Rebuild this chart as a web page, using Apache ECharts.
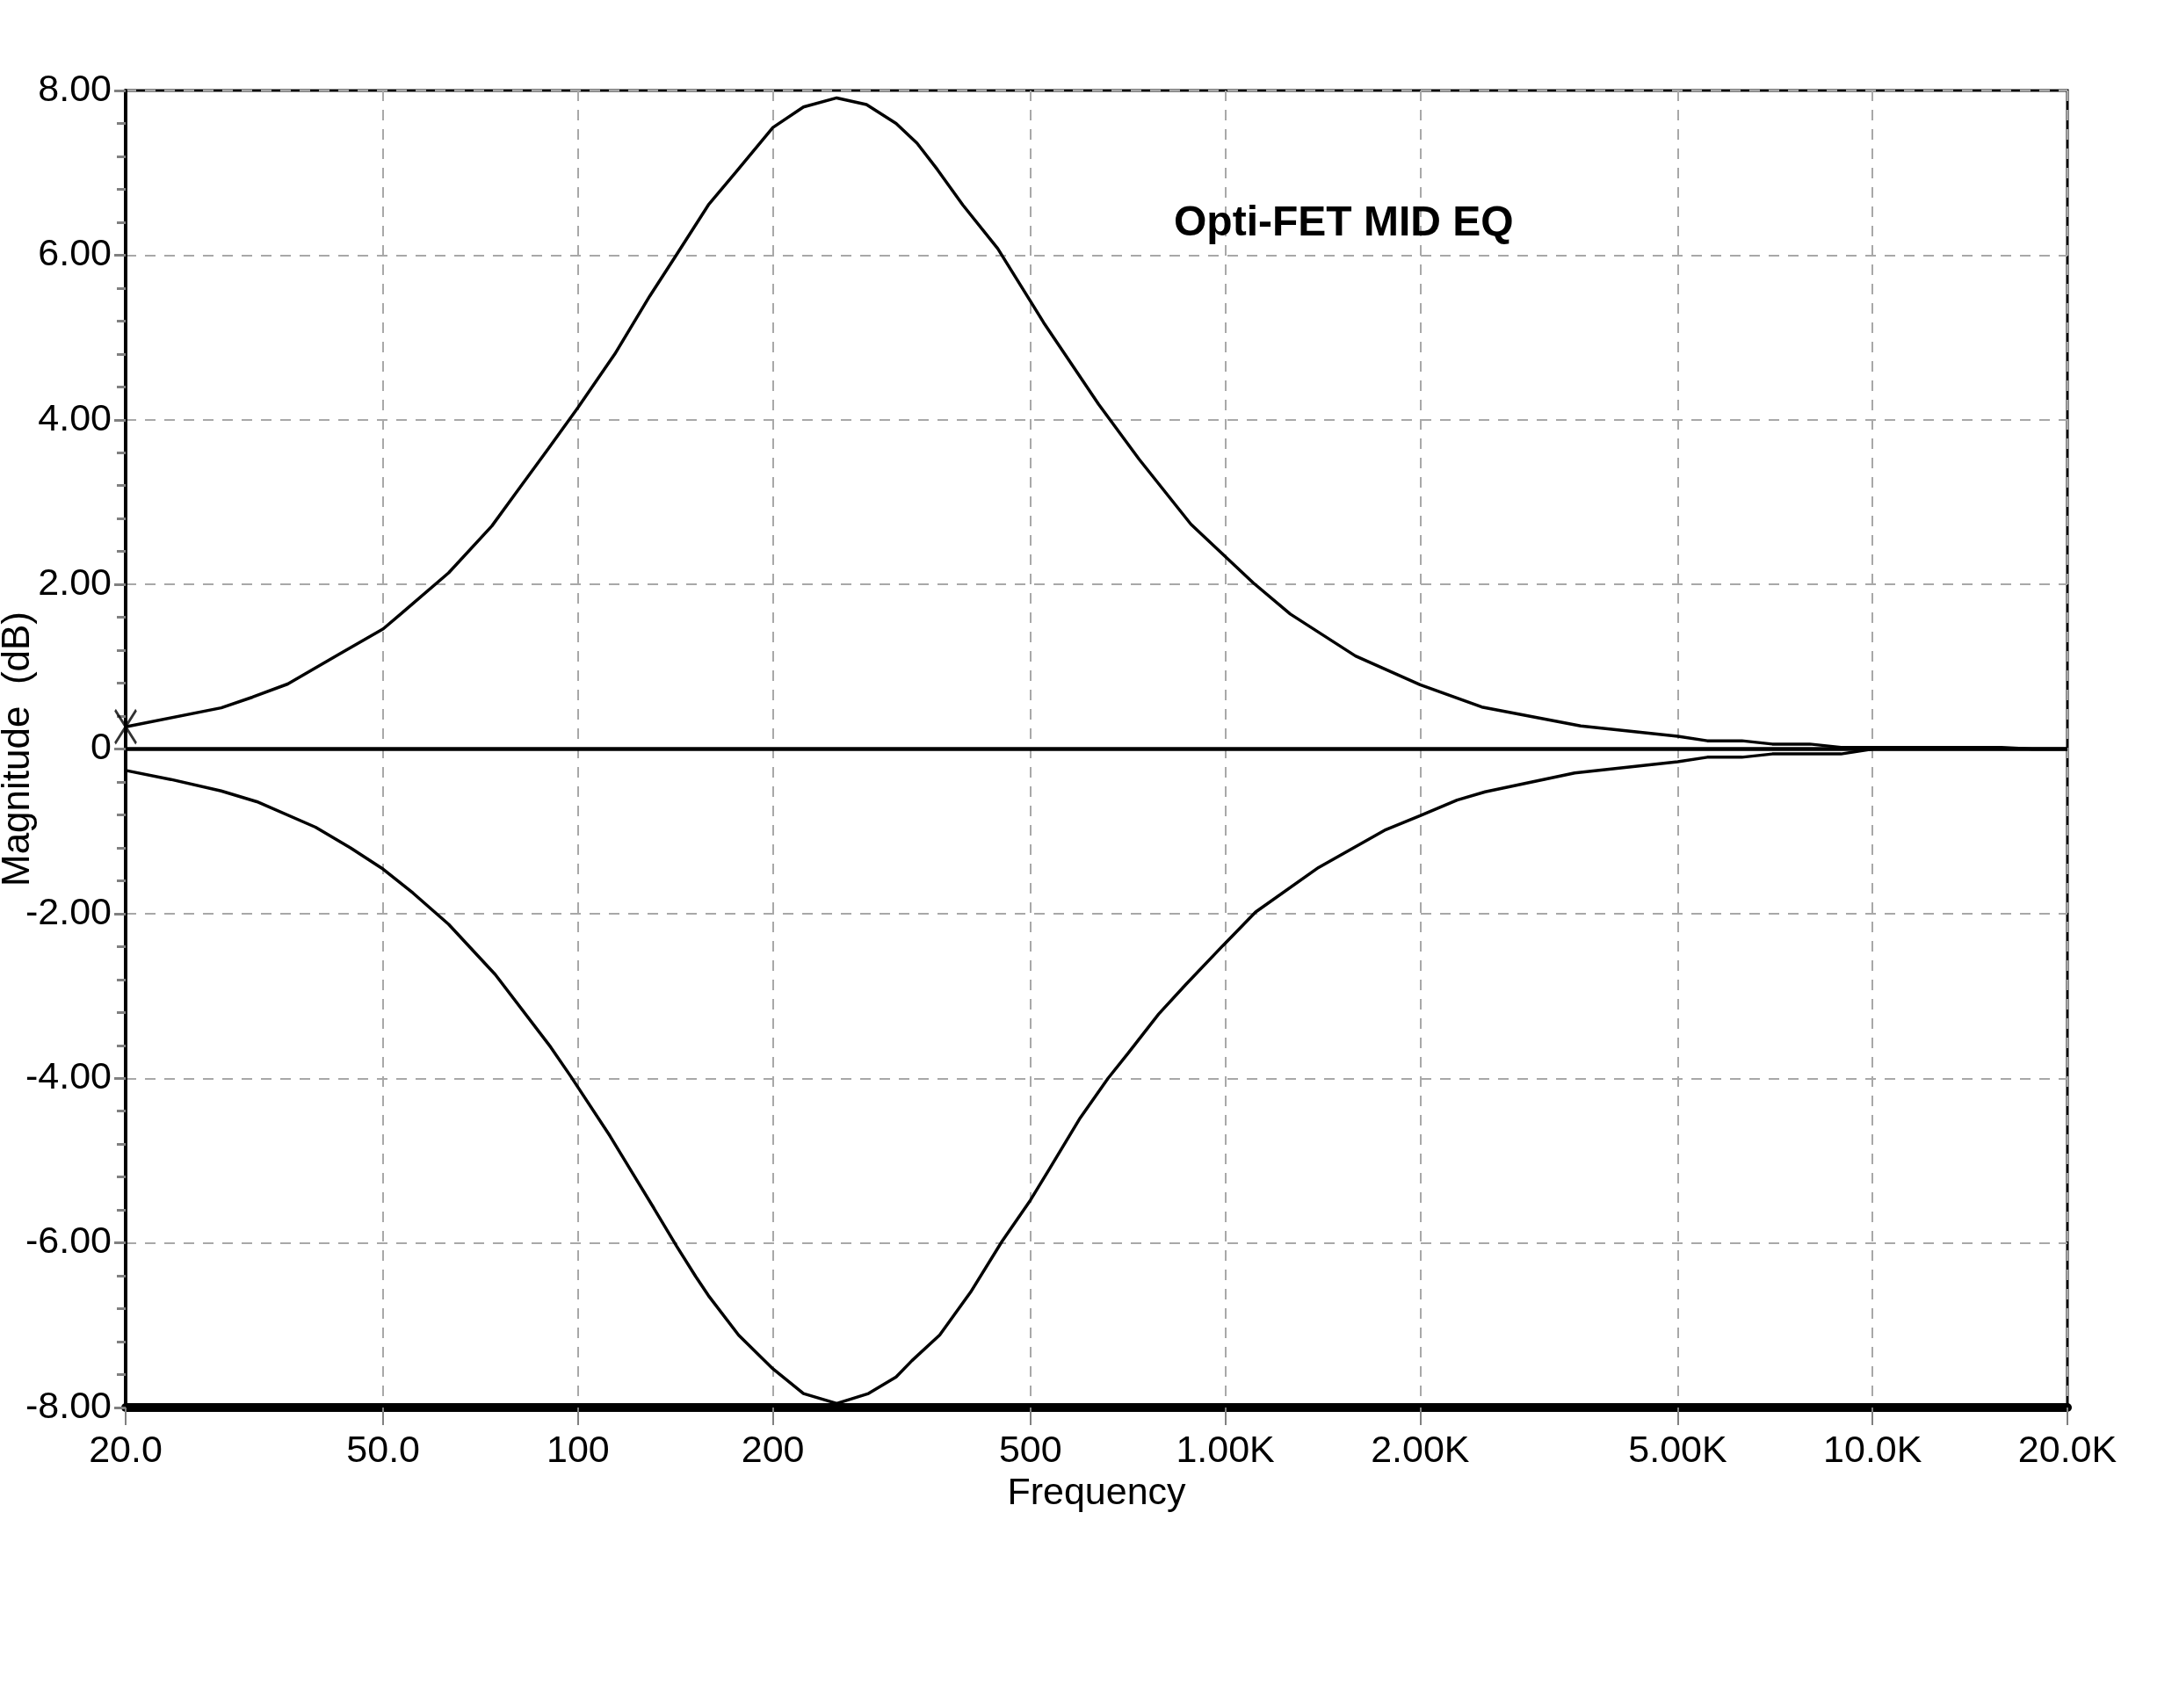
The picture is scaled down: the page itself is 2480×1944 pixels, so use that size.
<!DOCTYPE html>
<html>
<head>
<meta charset="utf-8">
<script src="https://cdn.jsdelivr.net/npm/echarts@6/dist/echarts.min.js"></script>
<style>
  html, body { margin: 0; padding: 0; background: #fff; }
  #chart { width: 2480px; height: 1944px; }
</style>
</head>
<body>
<div id="chart"></div>
<script>
// boost curve (upper)
var boostFreq = [20, 28.1, 31.4, 35.6, 42.7, 50, 53.4, 63.1, 73.6, 80, 90, 100, 114, 129, 141, 159, 175, 200, 223, 251, 279, 310, 334, 359, 393, 445, 500, 524, 637, 736, 885, 1104, 1260, 1589, 2000, 2490, 3541, 5000, 5554, 6283, 7000, 8000, 8940, 15820, 17650, 20000];
var boostDb = [0.27, 0.50, 0.63, 0.79, 1.15, 1.46, 1.65, 2.14, 2.71, 3.10, 3.65, 4.15, 4.80, 5.50, 5.97, 6.61, 7.00, 7.55, 7.80, 7.91, 7.83, 7.60, 7.36, 7.04, 6.61, 6.08, 5.44, 5.18, 4.19, 3.52, 2.73, 2.02, 1.64, 1.13, 0.78, 0.51, 0.28, 0.155, 0.10, 0.10, 0.06, 0.06, 0.02, 0.02, 0, 0];

// cut curve (lower)
var cutFreq = [20, 23.5, 28.1, 31.9, 39.3, 44.5, 50, 55.6, 63.1, 74.5, 90.7, 97.5, 112, 122, 131, 142, 152, 159, 177, 200, 223, 251, 281, 310, 328, 362, 404, 452, 500, 535, 597, 659, 707, 789, 869, 991, 1114, 1393, 1770, 2000, 2281, 2520, 3466, 5000, 5554, 6283, 7000, 8940, 10000, 20000];
var cutDb = [-0.26, -0.37, -0.51, -0.64, -0.95, -1.20, -1.46, -1.75, -2.13, -2.74, -3.62, -3.98, -4.70, -5.18, -5.58, -6.04, -6.41, -6.64, -7.12, -7.53, -7.83, -7.95, -7.83, -7.63, -7.43, -7.12, -6.60, -5.98, -5.48, -5.10, -4.48, -4.00, -3.70, -3.22, -2.86, -2.39, -1.98, -1.44, -0.98, -0.81, -0.62, -0.52, -0.29, -0.155, -0.10, -0.10, -0.06, -0.06, 0, 0];

// flat curve
var flatFreq = [20, 20000];
var flatDb = [0, 0];

// cursor marker
var cursorPoint = [20, 0.27];

// axis ticks
var xTickValues = [20, 50, 100, 200, 500, 1000, 2000, 5000, 10000, 20000];
var xTickLabels = ['20.0', '50.0', '100', '200', '500', '1.00K', '2.00K', '5.00K', '10.0K', '20.0K'];

function pairs(xs, ys) {
    return xs.map(function (x, i) { return [x, ys[i]]; });
}

function xLabel(v) {
    for (var i = 0; i < xTickValues.length; i++) {
        if (Math.abs(v - xTickValues[i]) / xTickValues[i] < 1e-6) return xTickLabels[i];
    }
    return '';
}

var chartDom = document.getElementById('chart');
var myChart = echarts.init(chartDom);

var FONT = 'Liberation Sans, Arial, sans-serif';
var curveStyle = { color: '#000', width: 3.5 };

var option = {
    backgroundColor: '#fff',
    animation: false,
    title: {
        text: 'Opti-FET MID EQ',
        left: 1331,
        top: 226,
        textStyle: { fontFamily: FONT, fontSize: 48, fontWeight: 'bold', color: '#000' }
    },
    grid: {
        left: 143,
        right: 127,
        top: 103,
        bottom: 342,
        outerBoundsMode: 'none',
        show: true,
        borderColor: '#000',
        borderWidth: 3,
        backgroundColor: 'transparent'
    },
    xAxis: {
        type: 'log',
        logBase: 10,
        min: 20,
        max: 20000,
        name: 'Frequency',
        nameLocation: 'middle',
        nameGap: 76,
        nameTextStyle: { fontFamily: FONT, fontSize: 43, color: '#000' },
        axisLine: { onZero: false, lineStyle: { color: '#000', width: 10 } },
        axisTick: {
            show: true,
            customValues: xTickValues,
            length: 20,
            lineStyle: { color: '#808080', width: 2 }
        },
        minorTick: { show: false },
        axisLabel: {
            customValues: xTickValues,
            margin: 29,
            fontFamily: FONT,
            fontSize: 43,
            color: '#000',
            showMinLabel: true,
            showMaxLabel: true,
            formatter: xLabel
        },
        splitLine: {
            show: true,
            lineStyle: { color: '#a8a8a8', width: 2, type: [12, 10] }
        }
    },
    yAxis: {
        type: 'value',
        min: -8,
        max: 8,
        interval: 2,
        name: 'Magnitude  (dB)',
        nameLocation: 'middle',
        nameRotate: 90,
        nameGap: 100,
        nameMoveOverlap: false,
        nameTextStyle: { fontFamily: FONT, fontSize: 44, color: '#000' },
        axisLine: { show: true, onZero: false, lineStyle: { color: '#000', width: 4 } },
        axisTick: { show: true, length: 13, lineStyle: { color: '#808080', width: 3 } },
        minorTick: { show: true, splitNumber: 5, length: 10, lineStyle: { color: '#808080', width: 3 } },
        axisLabel: {
            margin: 16,
            fontFamily: FONT,
            fontSize: 43,
            color: '#000',
            formatter: function (v) { return v === 0 ? '0' : v.toFixed(2); }
        },
        splitLine: {
            show: true,
            lineStyle: { color: '#a8a8a8', width: 2, type: [12, 10] }
        }
    },
    series: [
        {
            name: 'flat',
            type: 'line',
            data: pairs(flatFreq, flatDb),
            showSymbol: false,
            lineStyle: { color: '#000', width: 4.5 },
            z: 3
        },
        {
            name: 'boost',
            type: 'line',
            data: pairs(boostFreq, boostDb),
            showSymbol: false,
            lineStyle: curveStyle,
            z: 4
        },
        {
            name: 'cut',
            type: 'line',
            data: pairs(cutFreq, cutDb),
            showSymbol: false,
            lineStyle: curveStyle,
            z: 4
        },
        {
            name: 'cursor',
            type: 'scatter',
            data: [cursorPoint],
            symbol: 'path://M0,0L10,16M10,0L0,16',
            symbolSize: [24, 38],
            itemStyle: { color: 'transparent', borderColor: '#000', borderWidth: 3 },
            clip: false,
            z: 5
        }
    ]
};

myChart.setOption(option);
window.addEventListener('resize', function () {
    myChart.resize();
});
</script>
</body>
</html>
